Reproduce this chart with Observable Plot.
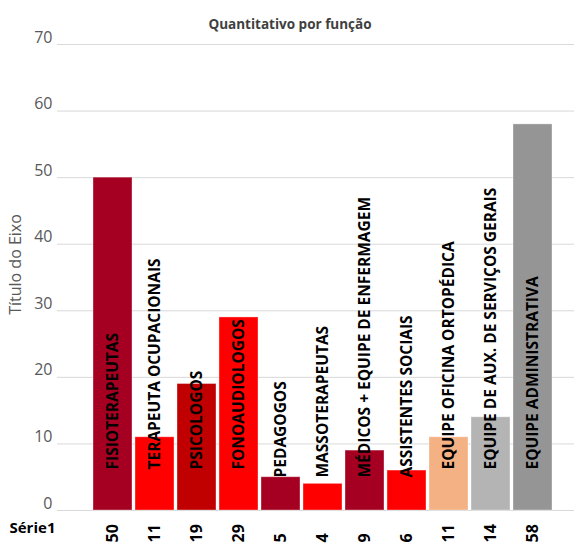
<!DOCTYPE html>
<html>
<head>
<meta charset="utf-8">
<script src="https://cdn.jsdelivr.net/npm/d3@7"></script>
<script src="https://cdn.jsdelivr.net/npm/@observablehq/plot@0.6"></script>
<style>
  html, body { margin: 0; padding: 0; background: #fff; }
  #chart svg { display: block; }
</style>
</head>
<body>
<div id="chart"></div>
<script>
const categories = [
  "FISIOTERAPEUTAS",
  "TERAPEUTA OCUPACIONAIS",
  "PSICOLOGOS",
  "FONOAUDIOLOGOS",
  "PEDAGOGOS",
  "MASSOTERAPEUTAS",
  "MÉDICOS + EQUIPE DE ENFERMAGEM",
  "ASSISTENTES SOCIAIS",
  "EQUIPE OFICINA ORTOPÉDICA",
  "EQUIPE DE AUX. DE SERVIÇOS GERAIS",
  "EQUIPE ADMINISTRATIVA"
];
const values = [50, 11, 19, 29, 5, 4, 9, 6, 11, 14, 58];
const colors = ["#a50021", "#ff0000", "#c00000", "#ff0000", "#a50021", "#ff0000", "#a50021", "#ff0000", "#f4b183", "#b4b4b4", "#959595"];
const yTicks = [0, 10, 20, 30, 40, 50, 60, 70];
const seriesName = "Série1";
const title = "Quantitativo por função";
const yLabel = "Título do Eixo";

const data = categories.map((c, i) => ({cat: c, value: values[i], color: colors[i]}));
const font = "Open Sans, DejaVu Sans, sans-serif";

const chart = Plot.plot({
  width: 574,
  height: 543,
  marginTop: 44,
  marginBottom: 33,
  marginLeft: 57,
  marginRight: 0,
  style: {fontFamily: font, background: "#fff"},
  x: {domain: categories, range: [89.5, 555], padding: 0.07, axis: null},
  y: {domain: [0, 70], axis: null},
  color: {type: "identity"},
  marks: [
    Plot.ruleY(yTicks, {stroke: "#d9d9d9", strokeWidth: 1}),
    Plot.barY(data, {x: "cat", y: "value", fill: "color", stroke: "#ffffff", strokeOpacity: 0.35, strokeWidth: 1}),
    Plot.text(yTicks, {
      x: null, y: d => d, text: d => String(d), frameAnchor: "left", textAnchor: "end",
      dx: -5, dy: -7, fontSize: 16, fill: "#595959"
    }),
    Plot.text(data.filter(d => d.value >= 10), {
      x: "cat", y: 0, text: "cat", rotate: -90, textAnchor: "start",
      dy: -41, fontSize: 15.5, fontWeight: "bold", fill: "#000"
    }),
    Plot.text(data.filter(d => d.value < 10), {
      x: "cat", y: 0, text: "cat", rotate: -90, textAnchor: "start",
      dy: -33, fontSize: 15.5, fontWeight: "bold", fill: "#000"
    }),
    Plot.text(data, {
      x: "cat", y: 0, text: d => String(d.value), rotate: -90, textAnchor: "start",
      dy: 32, fontSize: 16, fontWeight: "bold", fill: "#000"
    }),
    Plot.text([seriesName], {
      frameAnchor: "bottom-left", text: d => d, textAnchor: "start",
      dx: -48, dy: 22, fontSize: 15, fontWeight: "bold", fill: "#000"
    }),
    Plot.text([title], {
      frameAnchor: "top", text: d => d, dx: -26, dy: -25,
      fontSize: 13.5, fontWeight: "bold", fill: "#404040"
    }),
    Plot.text([yLabel], {
      frameAnchor: "left", text: d => d, rotate: -90, textAnchor: "middle", dx: -42, dy: -13,
      fontSize: 16, fill: "#595959"
    })
  ]
});
document.getElementById("chart").appendChild(chart);
</script>
</body>
</html>
